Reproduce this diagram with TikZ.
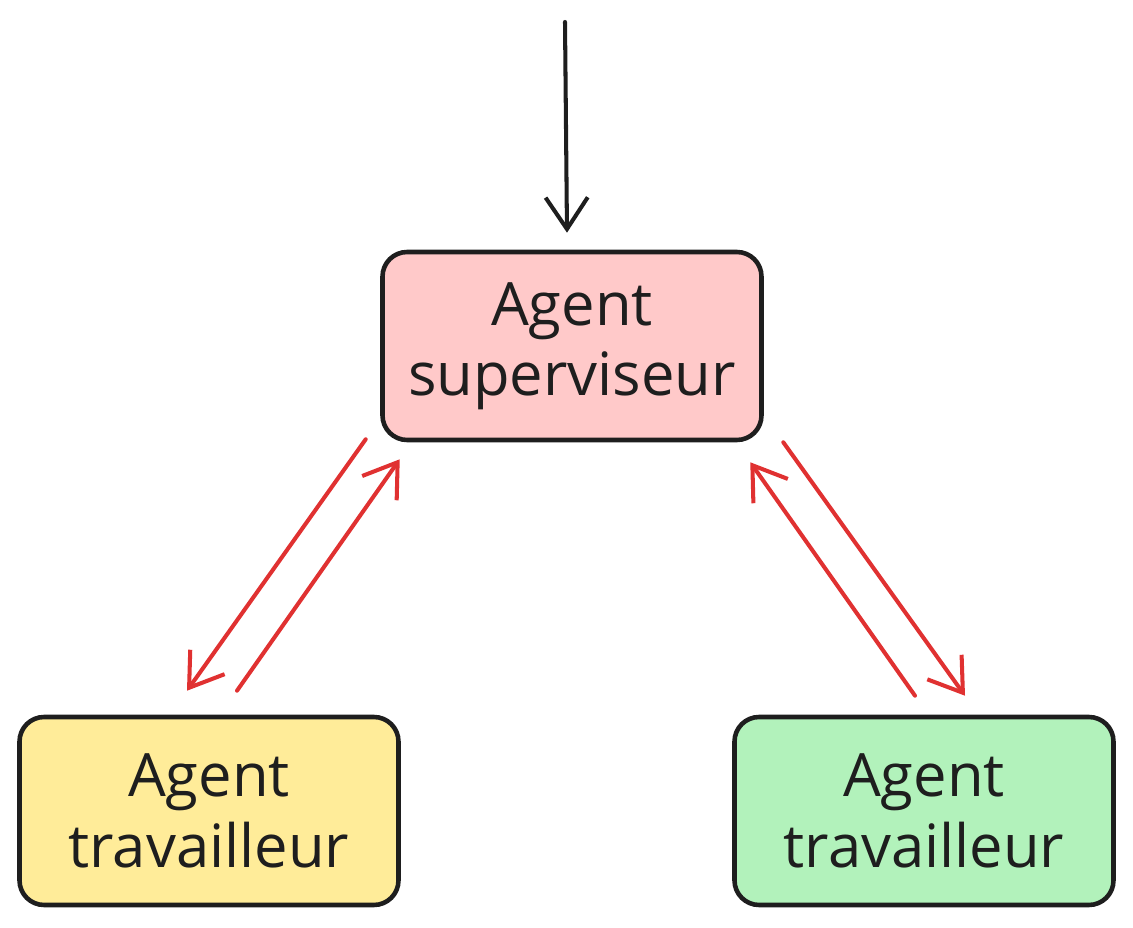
\documentclass[tikz,border=0pt]{standalone}
\usepackage{fontspec}
\setmainfont{Open Sans}
\usetikzlibrary{arrows.meta}
\definecolor{ink}{HTML}{1E1E1E}
\definecolor{pinkfill}{HTML}{FFC9C9}
\definecolor{yellowfill}{HTML}{FFEC99}
\definecolor{greenfill}{HTML}{B2F2BB}
\definecolor{redline}{HTML}{E03131}
\tikzset{
  agentbox/.style={draw=ink, line width=2.6pt, rounded corners=14pt,
    minimum width=379*0.02cm, minimum height=188*0.02cm, align=center,
    font=\fontsize{34}{40}\selectfont, text=ink, inner sep=0pt},
  flowarrow/.style={line width=2.3pt, line cap=round, -{Straight Barb[length=18pt,width=24pt,line width=2.3pt]}},
  redarrow/.style={flowarrow, draw=redline},
  blackarrow/.style={flowarrow, draw=ink},
}
\begin{document}
\begin{tikzpicture}[x=0.02cm, y=-0.02cm]
\useasboundingbox (0,0) rectangle (1133,928);
\node[agentbox, fill=pinkfill] (sup) at (572,346) {Agent\\superviseur};
\node[agentbox, fill=yellowfill] (lw) at (209,811) {Agent\\travailleur};
\node[agentbox, fill=greenfill] (rw) at (924,811) {Agent\\travailleur};
\coordinate (in) at (565,22);
\draw[blackarrow] (in) -- ([shift={(-5,-17)}]sup.north);
\draw[redarrow] ([shift={(-14.5,-3)}]sup.south west) -- ([shift={(-22,-24)}]lw.north);
\draw[redarrow] ([shift={(28,-24)}]lw.north) -- ([shift={(19.5,17)}]sup.south west);
\draw[redarrow] ([shift={(-9,-19)}]rw.north) -- ([shift={(-13.5,20)}]sup.south east);
\draw[redarrow] ([shift={(19.5,0)}]sup.south east) -- ([shift={(41,-19)}]rw.north);
\end{tikzpicture}
\end{document}
